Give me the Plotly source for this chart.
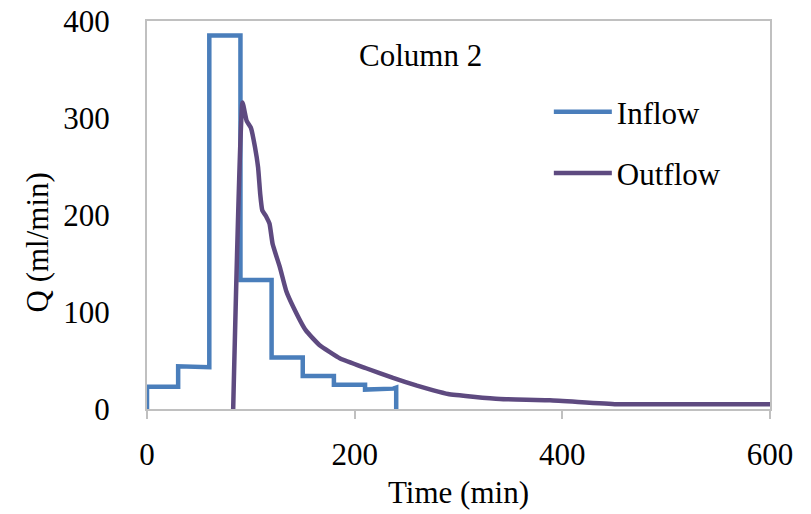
import plotly.graph_objects as go

inflow_time = [0, 0, 30, 30, 60, 60, 90, 90, 120, 120, 150, 150, 180, 180, 210, 210, 237, 240, 240]
inflow_q = [0, 23, 23, 44, 43, 385, 385, 133, 133, 53, 53, 34, 34, 25, 25, 20, 21, 22, 0]

outflow_time = [83, 92, 96, 100, 104, 107, 109, 111, 115, 118, 121, 128, 134, 141, 153, 166,
                186, 211, 237, 260, 275, 290, 314, 340, 388, 452, 500, 600]
outflow_q = [0, 316, 297, 290, 270, 249, 222, 205, 198, 191, 170, 146, 122, 105, 81, 66,
             52, 42, 32, 24, 19.5, 15.5, 12.7, 10.3, 9, 5, 5, 5]

x_ticks = [0, 200, 400, 600]
y_ticks = [0, 100, 200, 300, 400]

FONT = "Liberation Serif, Times New Roman, serif"
FS = 31
GRID = "#C0C0C0"

fig = go.Figure()
fig.add_trace(go.Scatter(x=inflow_time, y=inflow_q, mode="lines", name="Inflow",
                         legendgroup="a",
                         line=dict(color="#4A7EBB", width=4.5)))
fig.add_trace(go.Scatter(x=outflow_time, y=outflow_q, mode="lines", name="Outflow",
                         legendgroup="b",
                         line=dict(color="#5E4A80", width=4.5, shape="spline", smoothing=0.4)))

fig.update_layout(
    width=803, height=506,
    margin=dict(l=139, r=41, t=13, b=105),
    paper_bgcolor="white", plot_bgcolor="white",
    font=dict(family=FONT, size=FS, color="black"),
    showlegend=True,
    legend=dict(x=0.645, y=0.835, xanchor="left", yanchor="top",
                bgcolor="rgba(0,0,0,0)", tracegroupgap=18, itemwidth=58,
                font=dict(family=FONT, size=FS)),
    xaxis=dict(range=[0, 600], tickvals=x_ticks, showgrid=False, zeroline=False,
               showline=True, linecolor=GRID, linewidth=2, mirror=True,
               ticks="outside", ticklen=8, tickcolor=GRID, tickwidth=2,
               ticklabelstandoff=9, automargin=False, ticklabeloverflow="allow"),
    yaxis=dict(range=[0, 400], tickvals=y_ticks, showgrid=False, zeroline=False,
               showline=True, linecolor=GRID, linewidth=2, mirror=True,
               ticks="", ticklabelstandoff=29, automargin=False,
               ticklabeloverflow="allow"),
    annotations=[
        dict(text="Column 2", x=0.439, y=0.912, xref="paper", yref="paper",
             xanchor="center", yanchor="middle",
             showarrow=False, font=dict(family=FONT, size=FS)),
        dict(text="Time (min)", x=0.5, y=-0.215, xref="paper", yref="paper",
             xanchor="center", yanchor="middle", showarrow=False,
             font=dict(family=FONT, size=FS)),
        dict(text="Q (ml/min)", x=-0.176, y=0.43, xref="paper", yref="paper",
             xanchor="center", yanchor="middle", textangle=-90, showarrow=False,
             font=dict(family=FONT, size=FS)),
    ],
)

fig.write_html("out.html")
